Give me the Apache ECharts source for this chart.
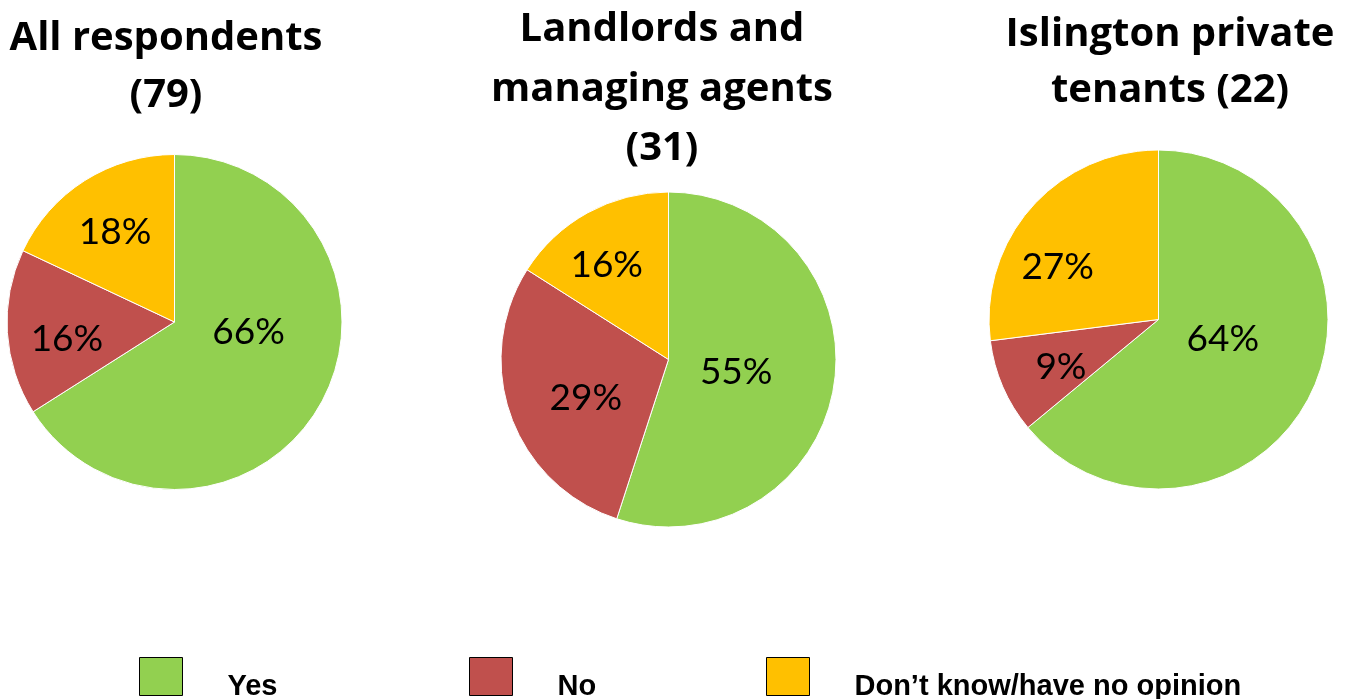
<!DOCTYPE html>
<html>
<head>
<meta charset="utf-8">
<title>Survey responses by group</title>
<script src="https://cdn.jsdelivr.net/npm/echarts@6/dist/echarts.min.js"></script>
<style>
  html, body { margin: 0; padding: 0; background: #fff; }
  #chart { width: 1346px; height: 699px; }
</style>
</head>
<body>
<div id="chart"></div>
<script>
// Answer categories and their colours
const categories = ['Yes', 'No', 'Don\u2019t know/have no opinion'];
const colors = ['#92D050', '#C0504D', '#FFC000'];

// Group titles (respondent counts in brackets)
const groupTitles = [
  'All respondents\n(79)',
  'Landlords and\nmanaging agents\n(31)',
  'Islington private\ntenants (22)'
];

// Percentage of each group giving each answer
const allRespondents = [66, 16, 18];
const landlordsAgents = [55, 29, 16];
const privateTenants = [64, 9, 27];

// Layout of each pie: centre, radius, title placement, label nudges
const layouts = [
  { center: [174.5, 322], radius: 167.5, titleX: 161, titleTop: 5, titleLH: 57,
    nudge: [[-2, -32], [-21, 12], [-13, -17]] },
  { center: [668.5, 359.5], radius: 167.5, titleX: 657, titleTop: -5, titleLH: 59.5,
    nudge: [[-18, -1], [-1, 9], [-20, -18]] },
  { center: [1158.5, 319.5], radius: 169.5, titleX: 1165, titleTop: 2, titleLH: 55.5,
    nudge: [[-15, -18], [-17, 13], [-35, 6]] }
];
const groupValues = [allRespondents, landlordsAgents, privateTenants];

const titleFont = '"Open Sans", Lato, sans-serif';
const labelFont = 'Lato, "Open Sans", sans-serif';

const option = {
  backgroundColor: '#fff',
  animation: false,
  title: layouts.map((l, i) => ({
    text: groupTitles[i],
    left: l.titleX,
    top: l.titleTop,
    textAlign: 'center',
    textStyle: {
      fontFamily: titleFont, fontWeight: 'bold', fontSize: 40,
      lineHeight: l.titleLH, color: '#000'
    }
  })),
  legend: [134, 464, 761].map((x, i) => ({
    data: [categories[i]],
    left: x,
    top: 647,
    itemWidth: 43,
    itemHeight: 38,
    icon: 'rect',
    selectedMode: false,
    itemStyle: { borderColor: '#000', borderWidth: 1 },
    // empty first line pushes the name slightly below the swatch centre
    formatter: name => '\n' + name,
    textStyle: {
      fontFamily: '"Liberation Sans", Arial, sans-serif', fontWeight: 'bold',
      fontSize: 29, lineHeight: 20, color: '#000', padding: [0, 0, 0, 40]
    }
  })),
  series: layouts.map((l, i) => ({
    type: 'pie',
    center: l.center,
    radius: l.radius,
    startAngle: 90,
    clockwise: true,
    avoidLabelOverlap: false,
    silent: true,
    itemStyle: { borderColor: '#fff', borderWidth: 1 },
    label: {
      show: true,
      position: 'inside',
      formatter: '{c}%',
      fontFamily: labelFont,
      fontSize: 37,
      color: '#000'
    },
    labelLayout: p => ({ dx: l.nudge[p.dataIndex][0], dy: l.nudge[p.dataIndex][1] }),
    labelLine: { show: false },
    data: categories.map((name, k) => ({
      name: name,
      value: groupValues[i][k],
      itemStyle: { color: colors[k] }
    }))
  }))
};

const chart = echarts.init(document.getElementById('chart'), null, { renderer: 'canvas' });
chart.setOption(option);
</script>
</body>
</html>
